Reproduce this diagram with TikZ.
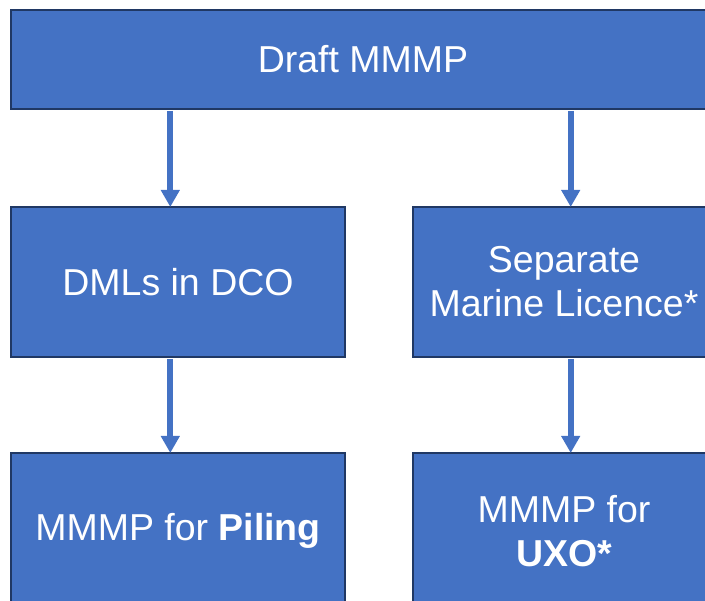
\documentclass[tikz,border=0pt]{standalone}
\usepackage{fontspec}
\setmainfont{Liberation Sans}
\usetikzlibrary{arrows.meta,calc}
\definecolor{boxblue}{HTML}{4472C4}
\definecolor{boxedge}{HTML}{203864}
\begin{document}
\begin{tikzpicture}[x=1pt,y=1pt,
  flowbox/.style={draw=boxedge,line width=1.5pt,fill=boxblue,text=white,
    align=center,inner sep=0pt,outer sep=0pt,
    font=\fontsize{37.5}{44}\selectfont},
  flowarrow/.style={draw=boxblue,line width=6pt,
    -{Triangle[width=18pt,length=17pt]},shorten <=2pt}]
\useasboundingbox (0,0) rectangle (705,601);
\clip (0,0) rectangle (705,601);
\node[flowbox,minimum width=704pt,minimum height=99pt] (top) at (363,541.5) {Draft MMMP};
\node[flowbox,minimum width=334pt,minimum height=150pt] (dml) at (178,319) {DMLs in DCO};
\node[flowbox,minimum width=302pt,minimum height=150pt] (sep) at (564,319) {Separate\\Marine Licence*};
\node[flowbox,minimum width=334pt,minimum height=156pt] (pil) at (178,70) {MMMP for \textbf{Piling}};
\node[flowbox,minimum width=302pt,minimum height=156pt] (uxo) at (564,70) {MMMP for\\\textbf{UXO*}};
\draw[flowarrow] ($(dml.north |- top.south)+(-7.7,0)$) -- ($(dml.north)+(-7.7,0)$);
\draw[flowarrow] ($(sep.north |- top.south)+(6.7,0)$) -- ($(sep.north)+(6.7,0)$);
\draw[flowarrow] ($(dml.south)+(-7.7,0)$) -- ($(pil.north)+(-7.7,0)$);
\draw[flowarrow] ($(sep.south)+(6.7,0)$) -- ($(uxo.north)+(6.7,0)$);
\end{tikzpicture}
\end{document}
